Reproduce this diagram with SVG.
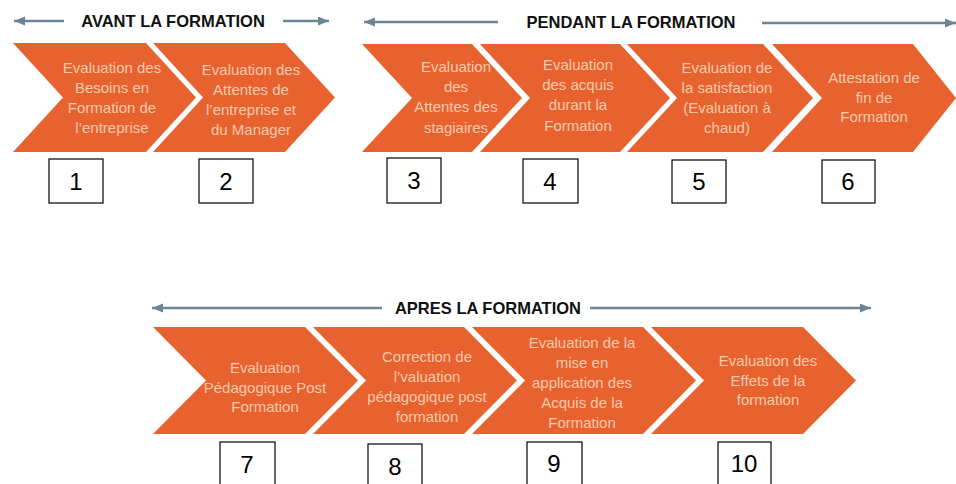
<svg xmlns="http://www.w3.org/2000/svg" width="956" height="484" viewBox="0 0 956 484">
<style>
.chev{fill:#E8622F;}
.t{font-family:"Liberation Sans",Arial,sans-serif;font-size:15px;fill:#F8CAAD;text-anchor:middle;}
.box{fill:#fff;stroke:#000;stroke-width:1.2;}
.num{font-family:"Liberation Sans",Arial,sans-serif;font-size:24px;fill:#000;text-anchor:middle;}
.hdr{font-family:"Liberation Sans",Arial,sans-serif;font-weight:bold;font-size:16.5px;fill:#111;text-anchor:middle;}
.arr{stroke:#6C8494;stroke-width:2.5;fill:none;marker-end:url(#ah);}
</style>
<defs>
<marker id="ah" markerUnits="userSpaceOnUse" markerWidth="12" markerHeight="10" refX="11" refY="4.5" orient="auto">
<path d="M0,0 L11,4.5 L0,9 z" fill="#6C8494"/>
</marker>
</defs>
<rect width="956" height="484" fill="#fff"/>

<g id="headers">
<text class="hdr" x="173" y="27">AVANT LA FORMATION</text>
<text class="hdr" x="631" y="28">PENDANT LA FORMATION</text>
<text class="hdr" x="488" y="314">APRES LA FORMATION</text>
</g>

<g id="connectors">
<line class="arr" x1="64" y1="21" x2="14" y2="21"/>
<line class="arr" x1="283" y1="21" x2="329" y2="21"/>
<line class="arr" x1="498" y1="22" x2="364" y2="22"/>
<line class="arr" x1="762" y1="23" x2="956" y2="23"/>
<line class="arr" x1="382" y1="308" x2="152" y2="308"/>
<line class="arr" x1="590" y1="308" x2="871" y2="308"/>
</g>

<g id="node1">
<polygon class="chev" points="13,43 146,43 196,97.5 146,152 13,152 63,97.5"/>
<text class="t" x="112"><tspan x="112" y="73">Evaluation des</tspan><tspan x="112" y="93">Besoins en</tspan><tspan x="112" y="113">Formation  de</tspan><tspan x="112" y="133">l’entreprise</tspan></text>
<rect class="box" x="49" y="159" width="54" height="44"/>
<text class="num" x="76" y="190">1</text>
</g>
<g id="node2">
<polygon class="chev" points="153,43 285,43 335,97.5 285,152 153,152 203,97.5"/>
<text class="t" x="251"><tspan x="251" y="75">Evaluation des</tspan><tspan x="251" y="95">Attentes de</tspan><tspan x="251" y="115">l’entreprise et</tspan><tspan x="251" y="135">du Manager</tspan></text>
<rect class="box" x="199" y="159" width="54" height="44"/>
<text class="num" x="226" y="190">2</text>
</g>
<g id="node3">
<polygon class="chev" points="362,44 472,44 522,98 472,152 362,152 412,98"/>
<text class="t" x="456"><tspan x="456" y="72">Evaluation</tspan><tspan x="456" y="92">des</tspan><tspan x="456" y="112">Attentes des</tspan><tspan x="456" y="133">stagiaires</tspan></text>
<rect class="box" x="387" y="158" width="54" height="45"/>
<text class="num" x="414" y="189">3</text>
</g>
<g id="node4">
<polygon class="chev" points="480,44 620,44 670,98 620,152 480,152 530,98"/>
<text class="t" x="578"><tspan x="578" y="70">Evaluation</tspan><tspan x="578" y="90">des acquis</tspan><tspan x="578" y="110">durant  la</tspan><tspan x="578" y="131">Formation</tspan></text>
<rect class="box" x="523" y="159" width="55" height="44"/>
<text class="num" x="550" y="190">4</text>
</g>
<g id="node5">
<polygon class="chev" points="627,44 763,44 813,98 763,152 627,152 677,98"/>
<text class="t" x="727"><tspan x="727" y="73">Evaluation de</tspan><tspan x="727" y="93">la satisfaction</tspan><tspan x="727" y="113">(Evaluation à</tspan><tspan x="727" y="133">chaud)</tspan></text>
<rect class="box" x="672" y="160" width="54" height="43"/>
<text class="num" x="699" y="190">5</text>
</g>
<g id="node6">
<polygon class="chev" points="772,44 913,44 956,98 913,152 772,152 822,98"/>
<text class="t" x="874"><tspan x="874" y="83">Attestation de</tspan><tspan x="874" y="103">fin de</tspan><tspan x="874" y="122">Formation</tspan></text>
<rect class="box" x="822" y="160" width="53" height="43"/>
<text class="num" x="848" y="190">6</text>
</g>

<g id="node7">
<polygon class="chev" points="153,327 305,327 358,380.5 305,434 153,434 206,380.5"/>
<text class="t" x="265"><tspan x="265" y="373">Evaluation</tspan><tspan x="265" y="393">Pédagogique Post</tspan><tspan x="265" y="412">Formation</tspan></text>
<rect class="box" x="220" y="442" width="55" height="50"/>
<text class="num" x="247" y="473">7</text>
</g>
<g id="node8">
<polygon class="chev" points="313,327 464,327 517,380.5 464,434 313,434 366,380.5"/>
<text class="t" x="427"><tspan x="427" y="362">Correction de</tspan><tspan x="427" y="382">l’valuation</tspan><tspan x="427" y="402">pédagogique post</tspan><tspan x="427" y="422">formation</tspan></text>
<rect class="box" x="368" y="444" width="54" height="50"/>
<text class="num" x="395" y="475">8</text>
</g>
<g id="node9">
<polygon class="chev" points="472,327 643,327 696,380.5 643,434 472,434 525,380.5"/>
<text class="t" x="582"><tspan x="582" y="348">Evaluation de la</tspan><tspan x="582" y="368">mise en</tspan><tspan x="582" y="388">application des</tspan><tspan x="582" y="408">Acquis de la</tspan><tspan x="582" y="428">Formation</tspan></text>
<rect class="box" x="527" y="442" width="55" height="50"/>
<text class="num" x="554" y="472">9</text>
</g>
<g id="node10">
<polygon class="chev" points="651,327 803,327 856,380.5 803,434 651,434 704,380.5"/>
<text class="t" x="768"><tspan x="768" y="366">Evaluation des</tspan><tspan x="768" y="386">Effets de la</tspan><tspan x="768" y="405">formation</tspan></text>
<rect class="box" x="718" y="442" width="53" height="50"/>
<text class="num" x="744" y="472">10</text>
</g>
</svg>
